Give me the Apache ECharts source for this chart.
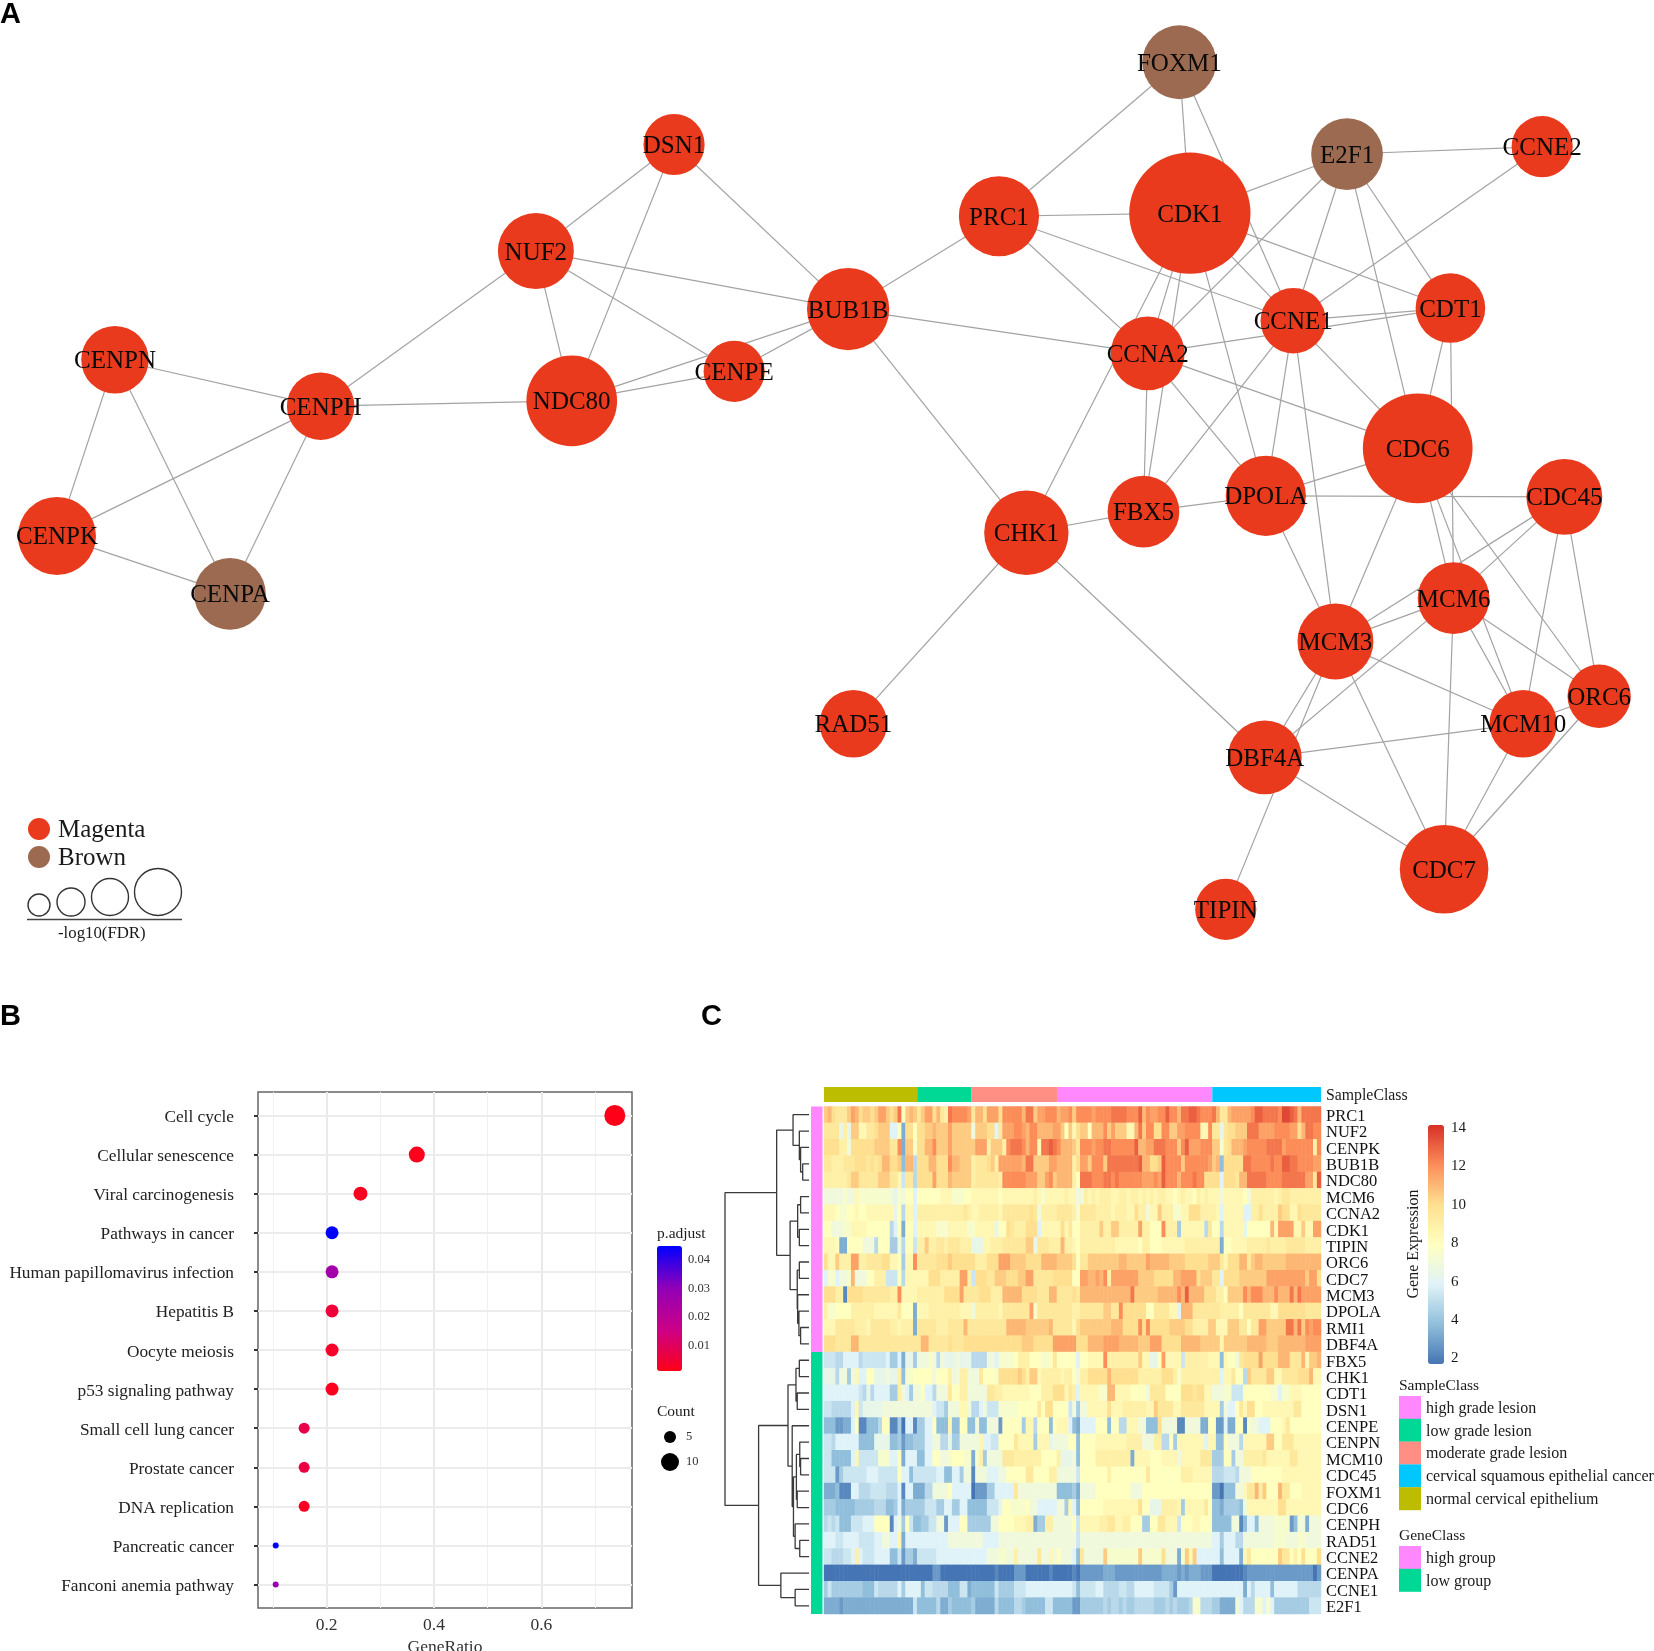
<!DOCTYPE html>
<html><head><meta charset="utf-8">
<style>html,body{margin:0;padding:0;background:#fff}#c{width:1654px;height:1651px}</style>
<script src="https://cdn.jsdelivr.net/npm/echarts@6/dist/echarts.min.js"></script>
</head><body><div id="c"></div>
<script>
// ---------- Panel A : network ----------
const netNodes = [
 ['FOXM1',1118,59,70,1],['E2F1',1277,146,68,1],['CCNE2',1462,139,58,0],['DSN1',639,137,58,0],['PRC1',947,205,76,0],
 ['CDK1',1128,202,115,0],['NUF2',508,238,72,0],['CDT1',1375,292,66,0],['BUB1B',804,293,78,0],['CCNE1',1226,304,62,0],
 ['CENPN',109,341,64,0],['CCNA2',1088,335,70,0],['CENPE',696,352,58,0],['NDC80',542,380,86,0],['CENPH',304,385,64,0],
 ['CDC6',1344,425,104,0],['DPOLA',1200,470,76,0],['CDC45',1483,471,72,0],['FBX5',1084,485,68,0],['CENPK',54,508,74,0],
 ['CHK1',973,505,80,0],['CENPA',218,563,68,1],['MCM6',1378,567,68,0],['MCM3',1266,608,72,0],['ORC6',1516,660,60,0],
 ['RAD51',809,686,64,0],['MCM10',1444,686,64,0],['DBF4A',1199,718,70,0],['CDC7',1369,824,84,0],['TIPIN',1162,862,58,0]
];
const netEdges = ('CENPN-CENPH CENPN-CENPK CENPN-CENPA CENPK-CENPH CENPK-CENPA CENPA-CENPH CENPH-NUF2 CENPH-NDC80 NUF2-DSN1 NUF2-NDC80 '+
 'NUF2-CENPE NUF2-BUB1B DSN1-NDC80 DSN1-BUB1B NDC80-CENPE NDC80-BUB1B CENPE-BUB1B BUB1B-PRC1 BUB1B-CCNA2 BUB1B-CHK1 CHK1-FBX5 CHK1-CDK1 '+
 'CHK1-RAD51 CHK1-DBF4A PRC1-FOXM1 PRC1-CDK1 PRC1-CCNA2 PRC1-CCNE1 FOXM1-CDK1 FOXM1-CCNE1 CDK1-E2F1 CDK1-CCNA2 CDK1-FBX5 CDK1-DPOLA '+
 'CDK1-CCNE1 CDK1-CDT1 E2F1-CCNE2 E2F1-CCNA2 E2F1-CCNE1 E2F1-CDC6 E2F1-CDT1 CCNE2-CCNE1 CCNE1-CDT1 CCNA2-CDT1 CCNE1-FBX5 CCNE1-DPOLA '+
 'CCNE1-MCM3 CCNE1-CDC6 CCNA2-CDC6 CCNA2-DPOLA CCNA2-FBX5 CDT1-CDC6 CDT1-MCM6 CDC6-DPOLA DPOLA-CDC45 DPOLA-FBX5 DPOLA-MCM3 CDC6-MCM6 '+
 'CDC6-MCM10 CDC6-ORC6 CDC6-MCM3 CDC45-MCM6 CDC45-MCM3 CDC45-MCM10 CDC45-ORC6 MCM6-MCM3 MCM6-DBF4A MCM6-MCM10 MCM6-ORC6 MCM6-CDC7 '+
 'MCM3-DBF4A MCM3-MCM10 MCM3-CDC7 MCM3-TIPIN MCM10-DBF4A MCM10-ORC6 MCM10-CDC7 ORC6-CDC7 DBF4A-CDC7').split(' ');

// ---------- Panel B : enrichment dots ----------
const pathways = ['Cell cycle','Cellular senescence','Viral carcinogenesis','Pathways in cancer','Human papillomavirus infection','Hepatitis B','Oocyte meiosis','p53 signaling pathway','Small cell lung cancer','Prostate cancer','DNA replication','Pancreatic cancer','Fanconi anemia pathway'];
const geneRatio = [0.737,0.368,0.263,0.21,0.21,0.21,0.21,0.21,0.158,0.158,0.158,0.105,0.105];
const geneCount = [14,7,5,4,4,4,4,4,3,3,3,2,2];
const pAdjust = [0.0006,0.001,0.0015,0.046,0.026,0.005,0.003,0.0012,0.007,0.006,0.002,0.046,0.028];
const countDiameter = {14:21,7:16,5:14,4:13,3:11,2:6};

// ---------- Panel C : heat map ----------
const genes = ['PRC1','NUF2','CENPK','BUB1B','NDC80','MCM6','CCNA2','CDK1','TIPIN','ORC6','CDC7','MCM3','DPOLA','RMI1','DBF4A','FBX5','CHK1','CDT1','DSN1','CENPE','CENPN','MCM10','CDC45','FOXM1','CDC6','CENPH','RAD51','CCNE2','CENPA','CCNE1','E2F1'];
const sampleClassNames = ['normal cervical epithelium','low grade lesion','moderate grade lesion','high grade lesion','cervical squamous epithelial cancer'];
const sampleClassCounts = [24,14,22,40,28];
const geneClassNames = ['high group','low group'];
const geneClassCounts = [15,16];
const levelChars = '0123456789abcdefghijklmno'; // one character per cell: 2.0, 2.5, 3.0 ... 14.0
const highGroupRows = [
'higfffhj ighhghjj hghlchih fhjjgife lkkkkjfi igjjjgkk kkkillhj jkkkijjk hkkkkjkk kkllllkk kmikjjkk mkkillmm lkkkliff ijjjjjkm mllllknn mlilllll',
'ffff9e9h hddffghh h88c3ggc gghhihhh jhhhhhah hhgg8fjj jkkjikki iiijjhch dghhciii khjhhhdd ilhkkggk khhjjkkk kddkff9f gghhhlll jjjjkkkk jjgillkk',
'ggggeeag ggggghhh hffk3hhb ggiikhhh jhhhhhhj jjehhhek lllkikkd llmlkiii hfkkkjkk llkkkkkk miijjlll kkkhkmjj jkkkhhbf giiijkkk kklllljk kkkkkkek',
'ffeeefff gggfgfgi iggh4ii6 gggiiggg kiihhhef ffghejjj jjjillhh hhjjiiii egjjhkkk hlllllll lmiigghm kkkkhkkk kkkjhi4g ggggllkk kkklkkmm llkkkkjj',
'eeeeeefh hfffffhh hffd7ff6 ggggjggg ihhhhhef fffffekk kkkkjjjh hjkhiiii eclllkkk llklkkkk kkjjjkjm kkkikkkl kkgggg8g ggfiilll llkkkkll lllljjfm',
'aaaaabaa dbbbbbbb ba9bacc8 ccccccdd dbbbccdd dddddcdd dddddded bddddded daaedede eeddeede edededee ddcdeddc ededddad ddddcaee eeeedeff eeeeeeee',
'dddcbbcc dccddddd dd9c6dd8 eeeeeeee eeeefedd eeeeedff fffffgfa eeeeffff ebffffee eedeeedd geeaddhe eebbddgg geeeed8d dddd88ee geeeehgg ddgfffff',
'ccaaabbd dddccccc c68c3cc8 dddddbbb dddddbbd dddd9ccg feeeggg8 dddddgdf cceeeeeh eehheeee ejeeccck eee5dddd dd6fcc6d dddd9ccc cccidjjj jddhddjj',
'dddc33cc ccaaa6cc c55a6cc7 eeheeffe fffeee99 9ddeeeff ffffhh9f ffeeeiee dceeeeee eeeddddd dceecccd dddddeee eeeeee3c cddddeee eefeeeef ffffeeee',
'gddheeej jeeffffg gddc5ddk fffffggg hgggggge eegggjjj hhhhgggg iiiihhhh gcffhhhh hhhhiihh hhhjiiii ihhhhggg ggghhhfd gggiifhi ihhhhhhi iiiiiiii',
'8bb8aabi aaacceee 777c6ddd dddgggee eeejje7g ggffhhhg gghhjjff fffggggg ccjjiiji kejjjjjj jhhhhggg ggiijjjj ghhhff8g ggghhhhh hhjjjjjj jjjjhjjg',
'gggee1gg ggffffff feekdddd eeeeeeeg gggjffff gggeeeii iiiggggf ffiiffff gfiiiiii iiiiiiil hhhhhhii iiikimii iigggeec hhhhkikk kiiikiii liljjjjj',
'ebbcccce eeeeeddd dddfccc3 dddeeeee eeedddae eeeeedff fffffjbf ffffffff eeffffff hhffkggg gggccfff fdd8iiif ffffffee eeecffff fffddggg ggggffff',
'dddfffff eeedffff feedeee3 fffffeee ffffifff fffffffi iiiihhhh hhifffff dghhhhhh hhiiiggg gkgkgggg ghhhhgge eeehhddd hhhffcff jjhhhhhl lilhkjkk',
'gggffffi ifffffff ffffffff fiifffff gfffgggg gggggggg ggghhhgg gggjjjjj jgggiiii jjjjiiii ihhhjjjg ggggiiii ihhhhhdh hhhhhiii iihhhiii iiiijjjj'
];
const lowGroupRows = [
'77766888 86777777 85583995 aaaba6a9 99a99966 66aa8bbb bceeeccc bbcfcccc c8ccdddd keeeeeee ehdd99cj dddd7eee eeeddd4d ccafgggg jggggiii fffidhhi',
'9996aa5a d88cc999 a99e4bbc ccccaccc eaaeeaaa fcccbggg gghgehhd eeeeedee caeegggg gigggggg geeeeeeg ggebeeee eeeeee8d dfcc6hff ffhhddff ffgggidd',
'88888888 87696888 855ea85a ac886aaa fcceeaaa aaffeedd dddddccc eeegggdf e8dddddb biiddddc cccaffff ccccgggf ggddaaab b777cccc cccbb8bb dddccccc',
'77666668 d799999a aaaaaaaa aaaa8775 aaadda66 8a777bbb bbcccccf cggcccc7 a5aadddd dgdddeee eeeddhff ffddffff ffdddd5a 88cfdggc cddddddd dffccccc',
'44422338 c114446c c1150881 5588c444 d44cc44a 44aaa2cc ccc5dd6c cc4cddd8 438888cc c4cc66dd daa444ga aaa11aaa a33cc228 33cc1baa 888cccdf cccccccc',
'77688888 84444999 94452445 5588aa66 955aaaaa d8877ccc cfdddd5d dd9aaaac c4ccccdd ddddddee eeaaaee6 6c5ddddd dd8dd44c aaa6dddd ddhhccff fddddddd',
'77444448 d77777bb b88c3888 4488ccaa bcccbb3b e5aaaaff feeeeeee cccce999 a4ccccee eeeeeee3 ddddcccd dddadddd dfff555c c5aaeeee efdddddd ffdddddd',
'77725777 77788877 777c8847 77777884 4885aa1a aa888aac ccccffcc cceeaaaa a7cccccc cecccccc cccfcccc cccceeed dddd6667 776aaacc ccccccdd dddddddd',
'33341118 86667777 66681883 3366aaaa c8888802 22558888 8faaaaaa aaaa4444 53aaaacc ccccccca aacccccc cccccccc cccc2204 44aadffi ehccciff cccddddd',
'55544444 55555666 44583555 55777558 85588444 447779cc bbbbcaa8 8888aa5d 84cccccc dddddddd dgcc999e eeed5ddd ddfc4435 5554addd dddddggd dddddddd',
'67674447 77888ccc c18a5c74 45577aa2 888cc555 555aaccc cdddee35 5eeaaaaa c7ddddde effddeec cc55ccff ddd7cccd dccc4444 4aa14884 aaaabbbb 24aa3aaa',
'88877888 8777788a a88d3888 88888888 aaaaaaaa a8888aaa aaaaaaaa aaaaaaaa a7aaaaaa aaaaaaaa aaaaaaaa aaaaaaaa aaaa8858 8866aaaa aaaabbba aabbaaaa',
'77666778 e8777888 84472553 77777888 88888888 88aaabba aeaaaaaf aadacaaa 84faaaaa hbbbbbbb bhbbbbbg aaa3bhdh 88888848 8883dfcc ccccchff cecgcccg',
'00000000 00000000 00000000 00002200 00000000 00001000 02220000 00100000 10222222 33322222 22222223 33323233 32220000 00001222 22222222 22222202',
'57555555 55444766 66685888 84776666 44477344 44447555 57778888 88888888 74777788 66667766 88888777 75288888 88888888 88883868 88848888 88666666',
'33332333 33333333 33333337 44444633 54444453 33336444 46654444 47744444 22555555 65665655 66666555 6565556b b6665533 33a8666b b8b85555 55555777'
];
const heatRows = highGroupRows.concat(lowGroupRows).map(s => s.replace(/\s/g,''));

// dendrogram: [height, left, right], leaves are gene names
const geneTree = [200,
 [77,[38,'PRC1',[23,'NUF2',[20,'CENPK',[15,'BUB1B','NDC80']]]],
     [45,[27,[20,'MCM6','CCNA2'],[23,'CDK1','TIPIN']],
         [28,[23,'ORC6','CDC7'],[27,'MCM3',[24,'DPOLA',[20,'RMI1','DBF4A']]]]]],
 [120,[50,[31,[23,'FBX5','CHK1'],[28,'CDT1','DSN1']],
          [40,'CENPE',[37,[30,[22,'CENPN',[20,'MCM10','CDC45']],[28,'FOXM1','CDC6']],[33,'CENPH',[22,'RAD51','CCNE2']]]]],
      [67,'CENPA',[33,'CCNE1','E2F1']]]
];

const colSerif='"Liberation Serif",serif', ink='#1a1a1a';
const classColor={'high grade lesion':'#FF88FF','low grade lesion':'#00D896','moderate grade lesion':'#FF8F85','cervical squamous epithelial cancer':'#00C8FF','normal cervical epithelium':'#BDBD00','high group':'#FF88FF','low group':'#00D896'};

// build dendrogram path
const dendro=[];
function walk(n){
  if(typeof n==='string') return {h:0,y:genes.indexOf(n)};
  const a=walk(n[1]), b=walk(n[2]), h=n[0];
  dendro.push([a.h,a.y],[h,a.y],[h,b.y],[b.h,b.y],['-','-']);
  return {h,y:(a.y+b.y)/2};
}
walk(geneTree);

// heat map cells
const heatData=[];
heatRows.forEach((r,i)=>{for(let j=0;j<r.length;j++)heatData.push([j,i,2+levelChars.indexOf(r[j])*0.5]);});

const scatterData=pathways.map((p,i)=>[geneRatio[i],i,geneCount[i],pAdjust[i]]);

const series=[];
// A
series.push({type:'graph',coordinateSystem:'cartesian2d',xAxisIndex:0,yAxisIndex:0,layout:'none',z:3,silent:true,
  data:netNodes.map(n=>({name:n[0],value:[n[1],n[2]],symbolSize:n[3]*1.0548,itemStyle:{color:n[4]?'#9C6A50':'#E93A1D'}})),
  links:netEdges.map(e=>{const p=e.split('-');return{source:p[0],target:p[1]};}),
  lineStyle:{color:'#a3a3a3',width:1.2,opacity:1,curveness:0},
  label:{show:true,position:'inside',offset:[0,2],color:'#0a0a0a',fontFamily:colSerif,fontSize:25}});
// B
series.push({type:'scatter',xAxisIndex:1,yAxisIndex:1,z:5,silent:true,data:scatterData,
  encode:{x:0,y:1},symbolSize:v=>countDiameter[v[2]],itemStyle:{opacity:1},
  markLine:{silent:true,symbol:'none',label:{show:false},animation:false,z:1,
    data:[].concat(
      [0.1,0.3,0.5,0.7].map(x=>({xAxis:x,lineStyle:{color:'#f1f1f1',width:1,type:'solid'}})),
      [0.2,0.4,0.6].map(x=>({xAxis:x,lineStyle:{color:'#e9e9e9',width:2,type:'solid'}})),
      pathways.map((p,i)=>({yAxis:i,lineStyle:{color:'#ececec',width:2.2,type:'solid'}})))}});
// C heat
series.push({type:'heatmap',xAxisIndex:2,yAxisIndex:2,data:heatData,progressive:0,silent:true,itemStyle:{borderWidth:0}});
// dendrogram
series.push({type:'line',xAxisIndex:3,yAxisIndex:3,data:dendro,showSymbol:false,symbol:'none',connectNulls:false,clip:false,silent:true,
  lineStyle:{color:'#3a3a3a',width:1.3}});
// annotation bars
sampleClassNames.forEach((n,i)=>series.push({type:'bar',name:n,stack:'s',xAxisIndex:4,yAxisIndex:4,barWidth:'100%',silent:true,
  data:[sampleClassCounts[i]],itemStyle:{color:classColor[n]}}));
geneClassNames.forEach((n,i)=>series.push({type:'bar',name:n,stack:'g',xAxisIndex:5,yAxisIndex:5,barWidth:'100%',silent:true,
  data:[geneClassCounts[i]],itemStyle:{color:classColor[n]}}));

const hide={show:false};
const T=(x,y,text,size,extra={})=>({type:'text',x,y,silent:true,style:Object.assign({text,fill:ink,font:`${size}px "Liberation Serif"`,textVerticalAlign:'middle'},extra)});
const L=(x1,y1,x2,y2,stroke,w)=>({type:'line',silent:true,shape:{x1,y1,x2,y2},style:{stroke,lineWidth:w}});
const C=(cx,cy,r)=>({type:'circle',silent:true,shape:{cx,cy,r},style:{fill:'none',stroke:'#333',lineWidth:1.4}});
const Dot=(cx,cy,r,fill)=>({type:'circle',silent:true,shape:{cx,cy,r},style:{fill}});
const Swatch=(y,n)=>({type:'rect',silent:true,shape:{x:1399,y,width:22,height:23},style:{fill:classColor[n]}});

const graphic=[
 T(0,15,'A',29,{font:'bold 29px "Liberation Sans"',fill:'#000'}),
 T(0,1017,'B',29,{font:'bold 29px "Liberation Sans"',fill:'#000'}),
 T(701,1017,'C',29,{font:'bold 29px "Liberation Sans"',fill:'#000'}),
 Dot(39,829,11,'#E93A1D'),Dot(39,857,11,'#9C6A50'),
 T(58,830,'Magenta',25),T(58,858,'Brown',25),
 C(39,905,11),C(71,902,14),C(110,897,18.5),C(158,892,23.5),
 L(27,919.5,182,919.5,'#444',1.5),T(58,934,'-log10(FDR)',16.8),
 T(657,1234,'p.adjust',15.5),
 T(688,1260,'0.04',12.5,{fill:'#333'}),T(688,1289,'0.03',12.5,{fill:'#333'}),T(688,1317,'0.02',12.5,{fill:'#333'}),T(688,1346,'0.01',12.5,{fill:'#333'}),
 L(657,1260,662,1260,'#fff',1),L(677,1260,682,1260,'#fff',1),L(657,1289,662,1289,'#fff',1),L(677,1289,682,1289,'#fff',1),
 L(657,1317,662,1317,'#fff',1),L(677,1317,682,1317,'#fff',1),L(657,1346,662,1346,'#fff',1),L(677,1346,682,1346,'#fff',1),
 T(657,1412,'Count',15.5),
 Dot(670,1437,6,'#000'),Dot(670,1462,9,'#000'),T(686,1437,'5',12.5,{fill:'#333'}),T(686,1462,'10',12.5,{fill:'#333'}),
 T(1326,1096,'SampleClass',15.8),
 {type:'text',silent:true,x:1414,y:1244,rotation:Math.PI/2,style:{text:'Gene Expression',fill:ink,font:'16px "Liberation Serif"',textAlign:'center',textVerticalAlign:'middle'}},
 ...[14,12,10,8,6,4,2].map((t,i)=>T(1451,1128+i*38.4,String(t),15)),
 T(1399,1386,'SampleClass',15.5),
 ...['high grade lesion','low grade lesion','moderate grade lesion','cervical squamous epithelial cancer','normal cervical epithelium'].flatMap((n,i)=>[Swatch(1396+i*22.8,n),T(1426,1408.5+i*22.8,n,16)]),
 T(1399,1536,'GeneClass',15.5),
 ...geneClassNames.flatMap((n,i)=>[Swatch(1546+i*22.8,n),T(1426,1558.5+i*22.8,n,16)])
];

const chart=echarts.init(document.getElementById('c'),null,{renderer:'canvas'});
chart.setOption({
 animation:false,backgroundColor:'#fff',
 grid:[
  {left:0,top:0,width:1654,height:960,outerBoundsMode:'none'},
  {left:258,top:1092,width:374,height:516,show:true,borderColor:'#666',borderWidth:1.5,backgroundColor:'#fff',outerBoundsMode:'none'},
  {left:824,top:1106.5,width:497,height:507.5,outerBoundsMode:'none'},
  {left:725,top:1106.5,width:84,height:507.5,outerBoundsMode:'none'},
  {left:824,top:1087,width:497,height:15,outerBoundsMode:'none'},
  {left:811,top:1106.5,width:11.5,height:507.5,outerBoundsMode:'none'},
  {left:824,top:1108.5,width:497,height:507.5,outerBoundsMode:'none'}, // gene labels, nudged down as in the reference
  {left:258,top:1094,width:374,height:516,outerBoundsMode:'none'}      // pathway labels, nudged down as in the reference
 ],
 xAxis:[
  {gridIndex:0,type:'value',min:0,max:1568,show:false},
  {gridIndex:1,type:'value',min:0.072,max:0.769,axisLine:hide,splitLine:hide,
   axisTick:{show:true,length:4,customValues:[0.2,0.4,0.6],lineStyle:{color:'#333',width:1.5}},
   axisLabel:{customValues:[0.2,0.4,0.6],formatter:v=>v.toFixed(1),fontFamily:colSerif,fontSize:17.5,color:'#333',margin:8},
   name:'GeneRatio',nameLocation:'middle',nameGap:30,nameTextStyle:{fontFamily:colSerif,fontSize:17.5,color:'#333'}},
  {gridIndex:2,type:'category',data:heatRows[0].split('').map((_,i)=>String(i+1)),show:false},
  {gridIndex:3,type:'value',min:0,max:200,inverse:true,show:false},
  {gridIndex:4,type:'value',min:0,max:128,show:false},
  {gridIndex:5,type:'category',data:['GeneClass'],show:false},
  {gridIndex:6,type:'value',min:0,max:1,show:false},
  {gridIndex:7,type:'value',min:0,max:1,show:false}
 ],
 yAxis:[
  {gridIndex:0,type:'value',min:0,max:910,inverse:true,show:false},
  {gridIndex:1,type:'value',min:-0.6,max:12.6,inverse:true,axisLine:hide,splitLine:hide,
   axisTick:{show:true,length:4,customValues:pathways.map((p,i)=>i),lineStyle:{color:'#333',width:2}},
   axisLabel:{show:false}},
  {gridIndex:2,type:'category',data:genes,inverse:true,show:false},
  {gridIndex:3,type:'value',min:-0.5,max:30.5,inverse:true,show:false},
  {gridIndex:4,type:'category',data:['SampleClass'],show:false},
  {gridIndex:5,type:'value',min:0,max:31,inverse:true,show:false},
  {gridIndex:6,type:'category',data:genes,inverse:true,position:'right',axisLine:hide,axisTick:hide,
   axisLabel:{interval:0,fontFamily:colSerif,fontSize:16.5,color:'#111',margin:5}},
  {gridIndex:7,type:'value',min:-0.6,max:12.6,inverse:true,axisLine:hide,axisTick:hide,splitLine:hide,
   axisLabel:{customValues:pathways.map((p,i)=>i),formatter:v=>pathways[Math.round(v)],fontFamily:colSerif,fontSize:17.3,color:'#222',margin:24}}
 ],
 visualMap:[
  {type:'continuous',seriesIndex:1,dimension:3,min:0.0005,max:0.046,left:657,top:1246,itemWidth:25,itemHeight:125,padding:0,calculable:false,hoverLink:false,text:null,
   inRange:{color:['#ff0018','#cc0088','#9000b8','#0000ff']},textStyle:{fontSize:1,color:'#fff'},showLabel:false},
  {type:'continuous',seriesIndex:2,dimension:2,min:2,max:14,left:1428,top:1125,itemWidth:16,itemHeight:239,padding:0,calculable:false,hoverLink:false,text:null,
   inRange:{color:['#4575B4','#91BFDB','#E0F3F8','#FFFFBF','#FEE090','#FC8D59','#D73027']},textStyle:{fontSize:1,color:'#fff'}}
 ],
 series,graphic
});
</script></body></html>
